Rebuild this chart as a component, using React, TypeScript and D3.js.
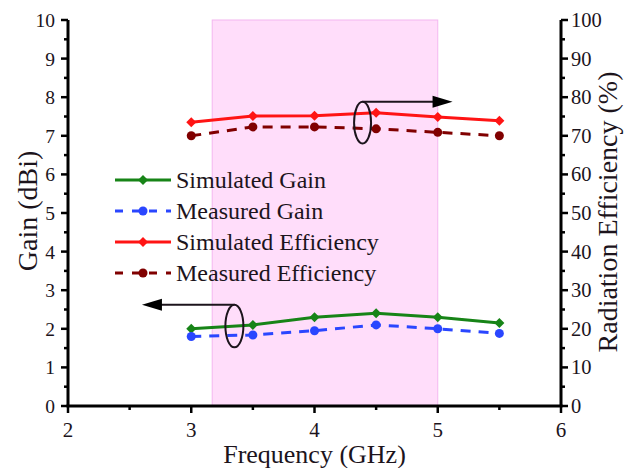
import React from 'react'
import * as d3 from 'd3'

const freqs = [3, 3.5, 4, 4.5, 5, 5.5]
const simGain = [2.0, 2.1, 2.3, 2.4, 2.3, 2.15]
const measGain = [1.8, 1.84, 1.95, 2.1, 2.0, 1.88]
const simEff = [73.5, 75.1, 75.2, 76.0, 74.9, 73.9]
const measEff = [70.0, 72.3, 72.3, 71.8, 70.9, 70.0]
const band = [3.17, 5.0]
const xTicks = [2, 3, 4, 5, 6]
const yTicks = [0, 1, 2, 3, 4, 5, 6, 7, 8, 9, 10]
const y2Ticks = [0, 10, 20, 30, 40, 50, 60, 70, 80, 90, 100]

const legendItems = [
  { name: 'Simulated Gain', color: '#178417', dash: false, shape: 'diamond' },
  { name: 'Measured Gain', color: '#2a46ff', dash: true, shape: 'circle' },
  { name: 'Simulated Efficiency', color: '#ff1414', dash: false, shape: 'diamond' },
  { name: 'Measured Efficiency', color: '#800000', dash: true, shape: 'circle' },
]

const font = '"Liberation Serif", "Times New Roman", serif'
const ink = '#1c141c'

const Marker = ({ x, y, shape, color }: any) =>
  shape === 'diamond'
    ? <path d={`M${x},${y - 5}L${x + 5},${y}L${x},${y + 5}L${x - 5},${y}Z`} fill={color} />
    : <circle cx={x} cy={y} r={4.5} fill={color} />

export default function App() {
  const width = 625
  const height = 468
  const m = { left: 68, right: 64, top: 20, bottom: 62 }

  const x = d3.scaleLinear().domain([2, 6]).range([m.left, width - m.right])
  const y = d3.scaleLinear().domain([0, 10]).range([height - m.bottom, m.top])
  const y2 = d3.scaleLinear().domain([0, 100]).range([height - m.bottom, m.top])

  const series = [
    { vals: simGain, sc: y, ...legendItems[0] },
    { vals: measGain, sc: y, ...legendItems[1] },
    { vals: simEff, sc: y2, ...legendItems[2] },
    { vals: measEff, sc: y2, ...legendItems[3] },
  ]

  const x0 = x(2), x1 = x(6), yb = y(0), yt = y(10)
  const minorX = d3.range(2.5, 6, 1)
  const minorY = d3.range(0.5, 10, 1)

  // annotation ellipses + arrows, in data units
  const effNote = { cx: 4.39, cy: 73.4, top: 78.8, tip: 5.12 }
  const gainNote = { cx: 3.35, cy: 2.07, top: 2.62, tip: 2.6 }

  const eTop = y2(effNote.top), eCy = y2(effNote.cy)
  const gTop = y(gainNote.top), gCy = y(gainNote.cy)

  return (
    <svg width={width} height={height} style={{ position: 'absolute', left: 0, top: 0, fontFamily: font }}>
      <rect x={0} y={0} width={width} height={height} fill="#fff" />
      <rect x={x(band[0])} y={yt} width={x(band[1]) - x(band[0])} height={yb - yt}
        fill="#ffddfa" stroke="#f4b6f0" strokeWidth={1} />

      {series.map((s, i) => {
        const line = d3.line<number>().x((d, j) => x(freqs[j])).y(d => s.sc(d))
        return (
          <g key={i}>
            <path d={line(s.vals) || ''} fill="none" stroke={s.color} strokeWidth={3}
              strokeDasharray={s.dash ? '10,8' : undefined} />
            {s.vals.map((v, j) => <Marker key={j} x={x(freqs[j])} y={s.sc(v)} shape={s.shape} color={s.color} />)}
          </g>
        )
      })}

      {/* efficiency annotation -> right axis */}
      <g stroke={ink} strokeWidth={2} fill="none">
        <ellipse cx={x(effNote.cx)} cy={eCy} rx={8.5} ry={eCy - eTop} />
        <line x1={x(effNote.cx)} y1={eTop} x2={x(effNote.tip) - 18} y2={eTop} />
      </g>
      <path d={`M${x(effNote.tip)},${eTop}L${x(effNote.tip) - 20},${eTop - 6}L${x(effNote.tip) - 20},${eTop + 6}Z`} fill="#000" />

      {/* gain annotation -> left axis */}
      <g stroke={ink} strokeWidth={2} fill="none">
        <ellipse cx={x(gainNote.cx)} cy={gCy} rx={9} ry={gCy - gTop} />
        <line x1={x(gainNote.cx)} y1={gTop} x2={x(gainNote.tip) + 18} y2={gTop} />
      </g>
      <path d={`M${x(gainNote.tip)},${gTop}L${x(gainNote.tip) + 20},${gTop - 6}L${x(gainNote.tip) + 20},${gTop + 6}Z`} fill="#000" />

      {/* legend */}
      {legendItems.map((d, i) => {
        const ly = 180 + i * 31
        return (
          <g key={i}>
            <line x1={115} x2={171} y1={ly} y2={ly} stroke={d.color} strokeWidth={3}
              strokeDasharray={d.dash ? '8,9' : undefined} />
            <Marker x={143} y={ly} shape={d.shape} color={d.color} />
            <text x={176} y={ly + 8} fontSize={24} fill={ink}>{d.name}</text>
          </g>
        )
      })}

      {/* axes */}
      <g stroke="#000" strokeWidth={3}>
        <line x1={x0 - 1.5} x2={x1 + 1.5} y1={yb} y2={yb} />
        <line x1={x0} x2={x0} y1={yb} y2={yt} />
        <line x1={x1} x2={x1} y1={yb} y2={yt} />
      </g>
      {xTicks.map(t => (
        <g key={t}>
          <line x1={x(t)} x2={x(t)} y1={yb} y2={yb + 7} stroke="#000" strokeWidth={2.5} />
          <text x={x(t)} y={yb + 31} textAnchor="middle" fontSize={21} fill={ink}>{t}</text>
        </g>
      ))}
      {minorX.map(t => <line key={t} x1={x(t)} x2={x(t)} y1={yb} y2={yb + 4} stroke="#000" strokeWidth={2.5} />)}
      {yTicks.map(t => (
        <g key={t}>
          <line x1={x0} x2={x0 - 7} y1={y(t)} y2={y(t)} stroke="#000" strokeWidth={2.5} />
          <text x={x0 - 13} y={y(t) + 7} textAnchor="end" fontSize={19.5} fill={ink}>{t}</text>
        </g>
      ))}
      {minorY.map(t => <line key={t} x1={x0} x2={x0 - 4} y1={y(t)} y2={y(t)} stroke="#000" strokeWidth={2.5} />)}
      {y2Ticks.map(t => (
        <g key={t}>
          <line x1={x1} x2={x1 + 7} y1={y2(t)} y2={y2(t)} stroke="#000" strokeWidth={2.5} />
          <text x={x1 + 10} y={y2(t) + 7} textAnchor="start" fontSize={20.5} fill={ink}>{t}</text>
        </g>
      ))}
      {minorY.map(t => <line key={t} x1={x1} x2={x1 + 4} y1={y2(t * 10)} y2={y2(t * 10)} stroke="#000" strokeWidth={2.5} />)}

      <text x={(x0 + x1) / 2} y={463} textAnchor="middle" fontSize={26} fill={ink}>Frequency (GHz)</text>
      <text transform={`translate(37,211) rotate(-90)`} textAnchor="middle" fontSize={28} fill={ink}>Gain (dBi)</text>
      <text transform={`translate(617,212) rotate(-90)`} textAnchor="middle" fontSize={28} fill={ink}>Radiation Efficiency (%)</text>
    </svg>
  )
}
